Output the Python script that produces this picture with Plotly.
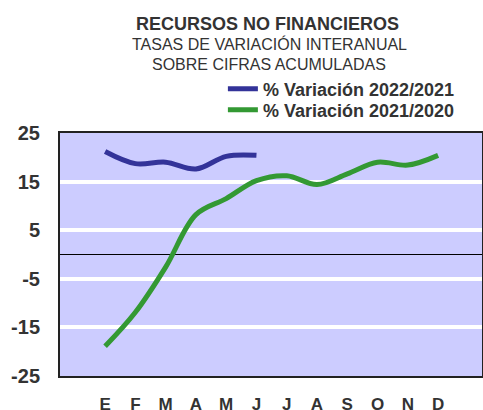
import plotly.graph_objects as go

months = ["E", "F", "M", "A", "M ", "J", "J ", "A ", "S", "O", "N", "D"]
tick_labels = ["E", "F", "M", "A", "M", "J", "J", "A", "S", "O", "N", "D"]
var_2022_2021 = [21.2, 18.7, 19.0, 17.6, 20.2, 20.4]
var_2021_2020 = [-18.9, -11.9, -2.6, 8.2, 11.5, 15.2, 16.2, 14.4, 16.6, 19.0, 18.4, 20.4]
y_ticks = [-25, -15, -5, 5, 15, 25]

BLUE = "#333399"
GREEN = "#339933"
TXT = "#333333"
FONT = "Liberation Sans, Arial, sans-serif"

fig = go.Figure()
fig.add_trace(go.Scatter(x=months[:len(var_2022_2021)], y=var_2022_2021, mode="lines",
                         name="<b>% Variación 2022/2021</b>", legend="legend",
                         line=dict(color=BLUE, width=5, shape="spline", smoothing=1.0)))
fig.add_trace(go.Scatter(x=months, y=var_2021_2020, mode="lines",
                         name="<b>% Variación 2021/2020</b>", legend="legend2",
                         line=dict(color=GREEN, width=5, shape="spline", smoothing=1.0)))

def py(p):
    return (376 - p) / 243.0

leg_common = dict(x=0.386, xanchor="left", yanchor="middle",
                  bgcolor="rgba(0,0,0,0)", font=dict(size=18, color=TXT, family=FONT),
                  itemwidth=30)

fig.update_layout(
    width=483, height=410,
    margin=dict(l=60, r=1, t=133, b=34, autoexpand=False),
    paper_bgcolor="white", plot_bgcolor="#CCCCFF",
    font=dict(family=FONT, color=TXT),
    showlegend=True,
    legend=dict(y=py(89), **leg_common),
    legend2=dict(y=py(110), **leg_common),
)
fig.update_xaxes(type="category", categoryorder="array", categoryarray=months,
                 tickvals=months, ticktext=["<b>%s</b>" % t for t in tick_labels],
                 range=[-1.49, 12.45], showgrid=False, automargin=False,
                 showline=True, linecolor="#222222", linewidth=2, mirror=True,
                 ticks="outside", ticklen=12, tickcolor="rgba(0,0,0,0)",
                 tickfont=dict(size=17, color=TXT))
fig.update_yaxes(range=[-25, 25], tickvals=y_ticks, automargin=False,
                 ticktext=["<b>%d</b>" % v for v in y_ticks],
                 showgrid=True, gridcolor="white", gridwidth=4,
                 zeroline=True, zerolinecolor="black", zerolinewidth=1,
                 showline=True, linecolor="#222222", linewidth=2, mirror=True,
                 ticks="outside", ticklen=14, tickcolor="rgba(0,0,0,0)",
                 tickfont=dict(size=20, color=TXT))

fig.add_annotation(text="<b>RECURSOS NO FINANCIEROS</b>", x=(267 - 60) / 422.0, y=py(24),
                   xref="paper", yref="paper", showarrow=False, xanchor="center", yanchor="middle",
                   font=dict(size=18, color=TXT, family=FONT))
fig.add_annotation(text="TASAS DE VARIACIÓN INTERANUAL", x=(269 - 60) / 422.0, y=py(44),
                   xref="paper", yref="paper", showarrow=False, xanchor="center", yanchor="middle",
                   font=dict(size=16, color=TXT, family=FONT))
fig.add_annotation(text="SOBRE CIFRAS ACUMULADAS", x=(269 - 60) / 422.0, y=py(64),
                   xref="paper", yref="paper", showarrow=False, xanchor="center", yanchor="middle",
                   font=dict(size=16, color=TXT, family=FONT))

fig.write_html("out.html", config={"displayModeBar": False},
               post_script="document.body.style.margin='0';document.body.style.overflow='hidden';")
